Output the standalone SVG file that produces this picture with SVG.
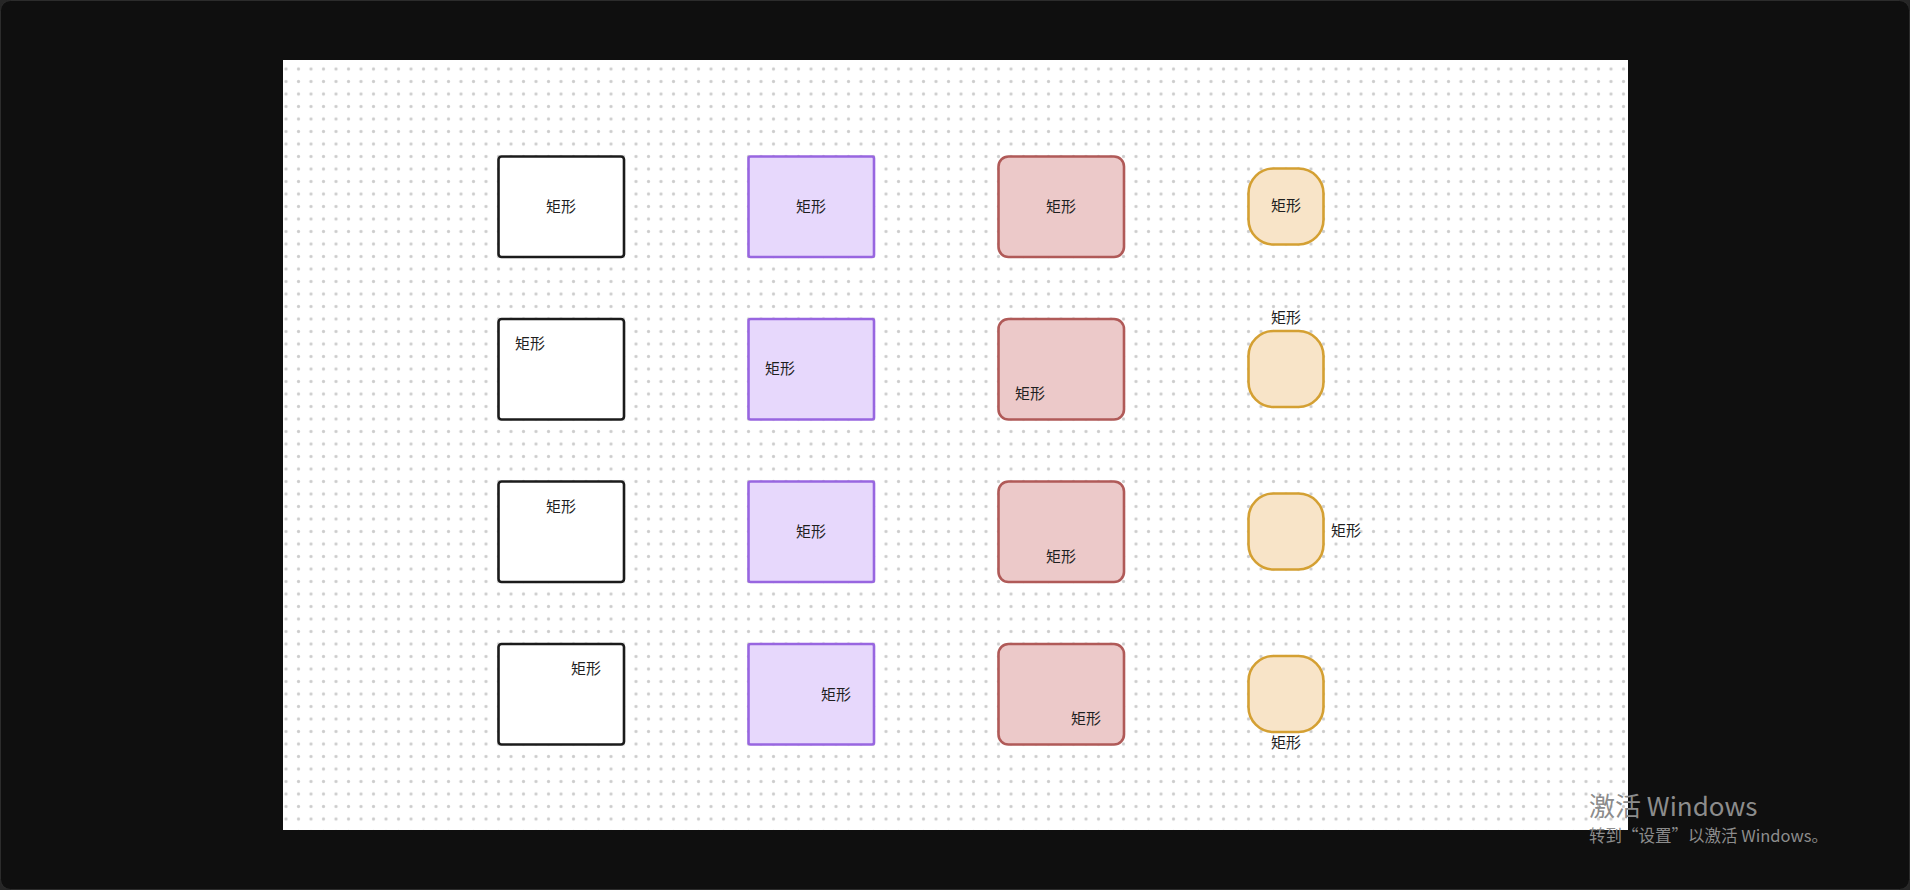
<svg xmlns="http://www.w3.org/2000/svg" width="1910" height="890" viewBox="0 0 1910 890">
<defs>
<pattern id="dots" x="279.75" y="62.75" width="12.5" height="12.5" patternUnits="userSpaceOnUse">
<circle cx="6.25" cy="6.25" r="1.6" fill="#cdcdcd"/>
</pattern>
<style>
.lbl{font-family:"Noto Sans CJK SC","Noto Sans",sans-serif;font-size:15px;fill:#1f1f1f;text-anchor:middle;dominant-baseline:central}
.wm{font-family:"Noto Sans CJK SC","Noto Sans",sans-serif;fill:#8c8c8c}
.c1{fill:#ffffff;stroke:#1b1b1b;stroke-width:2.6}
.c2{fill:#e7d8fc;stroke:#9866e0;stroke-width:2.6}
.c3{fill:#ecc9c9;stroke:#b05a58;stroke-width:2.6}
.c4{fill:#f8e4c8;stroke:#d4a033;stroke-width:2.6}
</style>
</defs>
<rect x="0" y="0" width="1910" height="890" fill="#262626"/>
<rect x="0.5" y="0.5" width="1909" height="889" rx="10" fill="#0f0f0f" stroke="#2c2c2c" stroke-width="1"/>
<rect x="283" y="60" width="1345" height="770" fill="#ffffff"/>
<rect x="283" y="60" width="1345" height="770" fill="url(#dots)"/>
<g id="connectors"/>
<g id="n-1-1"><rect class="c1" x="498.5" y="156.5" width="125.5" height="100.5" rx="3"/><text class="lbl" x="561" y="205.5">矩形</text></g>
<g id="n-1-2"><rect class="c1" x="498.5" y="319" width="125.5" height="100.5" rx="3"/><text class="lbl" x="530" y="342.5">矩形</text></g>
<g id="n-1-3"><rect class="c1" x="498.5" y="481.5" width="125.5" height="100.5" rx="3"/><text class="lbl" x="561" y="505.5">矩形</text></g>
<g id="n-1-4"><rect class="c1" x="498.5" y="644" width="125.5" height="100.5" rx="3"/><text class="lbl" x="586" y="667.5">矩形</text></g>
<g id="n-2-1"><rect class="c2" x="748.5" y="156.5" width="125.5" height="100.5" rx="2"/><text class="lbl" x="811" y="205.5">矩形</text></g>
<g id="n-2-2"><rect class="c2" x="748.5" y="319" width="125.5" height="100.5" rx="2"/><text class="lbl" x="780" y="367.5">矩形</text></g>
<g id="n-2-3"><rect class="c2" x="748.5" y="481.5" width="125.5" height="100.5" rx="2"/><text class="lbl" x="811" y="530">矩形</text></g>
<g id="n-2-4"><rect class="c2" x="748.5" y="644" width="125.5" height="100.5" rx="2"/><text class="lbl" x="836" y="693">矩形</text></g>
<g id="n-3-1"><rect class="c3" x="998.5" y="156.5" width="125.5" height="100.5" rx="10"/><text class="lbl" x="1061" y="205.5">矩形</text></g>
<g id="n-3-2"><rect class="c3" x="998.5" y="319" width="125.5" height="100.5" rx="10"/><text class="lbl" x="1030" y="392.5">矩形</text></g>
<g id="n-3-3"><rect class="c3" x="998.5" y="481.5" width="125.5" height="100.5" rx="10"/><text class="lbl" x="1061" y="555">矩形</text></g>
<g id="n-3-4"><rect class="c3" x="998.5" y="644" width="125.5" height="100.5" rx="10"/><text class="lbl" x="1086" y="717.5">矩形</text></g>
<g id="n-4-1"><rect class="c4" x="1248.5" y="168.5" width="75" height="76" rx="25"/><text class="lbl" x="1286" y="204.5">矩形</text></g>
<g id="n-4-2"><rect class="c4" x="1248.5" y="331" width="75" height="76" rx="25"/><text class="lbl" x="1286" y="316.5">矩形</text></g>
<g id="n-4-3"><rect class="c4" x="1248.5" y="493.5" width="75" height="76" rx="25"/><text class="lbl" x="1346" y="529.5">矩形</text></g>
<g id="n-4-4"><rect class="c4" x="1248.5" y="656" width="75" height="76" rx="25"/><text class="lbl" x="1286" y="741.5">矩形</text></g>
<text class="wm" x="1589" y="816" font-size="26">激活 Windows</text>
<text class="wm" x="1589" y="842" font-size="16.5">转到“设置”以激活 Windows。</text>
</svg>
